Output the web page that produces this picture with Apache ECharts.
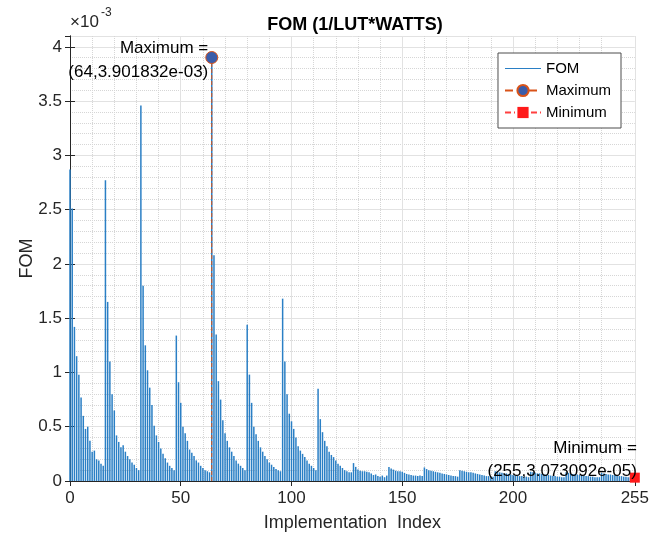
<!DOCTYPE html>
<html>
<head>
<meta charset="utf-8">
<script src="https://cdn.jsdelivr.net/npm/echarts@6/dist/echarts.min.js"></script>
<style>
html, body { margin: 0; padding: 0; background: #fff; }
#chart { width: 652px; height: 537px; }
</style>
</head>
<body>
<div id="chart"></div>
<script>
// FOM per implementation, in units of 1e-3 (one row = 16 implementations)
var fomE3 = [
  2.87, 2.51, 1.42, 1.15, 0.98, 0.77, 0.60, 0.48, 0.50, 0.37, 0.27, 0.28, 0.20, 0.19, 0.16, 0.14,
  2.77, 1.65, 1.10, 0.80, 0.65, 0.42, 0.36, 0.31, 0.33, 0.27, 0.23, 0.20, 0.17, 0.15, 0.12, 0.10,
  3.46, 1.80, 1.25, 1.02, 0.86, 0.70, 0.51, 0.42, 0.36, 0.30, 0.25, 0.21, 0.17, 0.14, 0.12, 0.10,
  1.34, 0.91, 0.72, 0.50, 0.44, 0.37, 0.29, 0.26, 0.23, 0.19, 0.17, 0.14, 0.12, 0.10, 0.09, 0.08,
  3.901832, 2.08, 1.35, 0.92, 0.75, 0.56, 0.44, 0.37, 0.31, 0.27, 0.23, 0.19, 0.16, 0.14, 0.12, 0.10,
  1.44, 0.98, 0.72, 0.50, 0.43, 0.37, 0.31, 0.27, 0.23, 0.20, 0.17, 0.15, 0.13, 0.11, 0.10, 0.09,
  1.68, 1.10, 0.80, 0.62, 0.55, 0.48, 0.40, 0.32, 0.28, 0.25, 0.22, 0.19, 0.16, 0.14, 0.12, 0.10,
  0.85, 0.57, 0.45, 0.37, 0.32, 0.27, 0.24, 0.22, 0.19, 0.16, 0.14, 0.12, 0.10, 0.09, 0.08, 0.08,
  0.165, 0.13, 0.105, 0.095, 0.09, 0.09, 0.085, 0.08, 0.07, 0.055, 0.06, 0.045, 0.04, 0.05, 0.035, 0.05,
  0.13, 0.115, 0.105, 0.095, 0.09, 0.09, 0.085, 0.075, 0.065, 0.06, 0.055, 0.05, 0.05, 0.045, 0.05, 0.045,
  0.125, 0.11, 0.10, 0.095, 0.09, 0.085, 0.08, 0.075, 0.07, 0.065, 0.06, 0.055, 0.05, 0.045, 0.045, 0.04,
  0.10, 0.095, 0.09, 0.085, 0.08, 0.08, 0.075, 0.07, 0.065, 0.06, 0.055, 0.05, 0.045, 0.045, 0.04, 0.04,
  0.09, 0.085, 0.08, 0.075, 0.07, 0.07, 0.065, 0.06, 0.055, 0.05, 0.05, 0.045, 0.045, 0.04, 0.04, 0.035,
  0.085, 0.08, 0.075, 0.07, 0.07, 0.065, 0.06, 0.06, 0.055, 0.05, 0.045, 0.045, 0.04, 0.04, 0.035, 0.035,
  0.08, 0.075, 0.07, 0.065, 0.065, 0.06, 0.055, 0.055, 0.05, 0.045, 0.045, 0.04, 0.04, 0.035, 0.035, 0.035,
  0.075, 0.07, 0.065, 0.06, 0.06, 0.055, 0.055, 0.05, 0.045, 0.045, 0.04, 0.04, 0.035, 0.035, 0.033, 0.03073092
];
var implIndex = fomE3.map(function (v, i) { return i; });
var xTicks = [0, 50, 100, 150, 200, 255];

var FONT = 'Liberation Sans';
var AXIS_COLOR = '#262626';

// max / min of the data
var maxIdx = 0, minIdx = 0;
fomE3.forEach(function (v, i) {
  if (v > fomE3[maxIdx]) maxIdx = i;
  if (v < fomE3[minIdx]) minIdx = i;
});

// matlab style e-notation: 3.901832e-03
function sci(v) {
  return v.toExponential(6).replace(/e([+-])(\d)$/, 'e$10$2');
}

var chart = echarts.init(document.getElementById('chart'));

function boxAxis(pos) {
  return {
    type: 'value', position: pos, min: 0,
    axisLine: { show: true, lineStyle: { color: AXIS_COLOR, width: 1 } },
    axisTick: { show: true, inside: true, length: 5, lineStyle: { color: AXIS_COLOR } },
    axisLabel: { show: false },
    splitLine: { show: false }
  };
}

var xTop = boxAxis('top');
xTop.max = 255; xTop.interval = 50;
xTop.axisTick.customValues = xTicks;
var yRight = boxAxis('right');
yRight.max = 4.1; yRight.interval = 0.5;

chart.setOption({
  animation: false,
  backgroundColor: '#fff',
  textStyle: { fontFamily: FONT },
  grid: { left: 70, right: 12, top: 36, bottom: 52 },
  graphic: [
    { type: 'text', x: 355, y: 25, style: { text: 'FOM (1/LUT*WATTS)', align: 'center', verticalAlign: 'middle', font: 'bold 18px "Liberation Sans"', fill: '#000' } },
    { type: 'text', x: 70, y: 22, style: { text: '×10', align: 'left', verticalAlign: 'middle', font: '17px "Liberation Sans"', fill: AXIS_COLOR } },
    { type: 'text', x: 101, y: 13, style: { text: '-3', align: 'left', verticalAlign: 'middle', font: '12px "Liberation Sans"', fill: AXIS_COLOR } }
  ],
  legend: {
    right: 31, top: 53, orient: 'vertical',
    backgroundColor: '#fff', borderColor: '#4d4d4d', borderWidth: 1,
    padding: [8, 10, 8, 6], itemGap: 7, itemWidth: 36, itemHeight: 14,
    selectedMode: false,
    textStyle: { fontSize: 15, color: '#000', fontFamily: FONT },
    data: [
      { name: 'FOM', icon: 'path://M0,0h0.05v0.05h-0.05z M0,6.5h40v1h-40z M0,14h0.05v0.05h-0.05z' },
      'Maximum', 'Minimum'
    ]
  },
  xAxis: [{
    type: 'value', position: 'bottom', min: 0, max: 255, interval: 50,
    name: 'Implementation  Index', nameLocation: 'middle', nameGap: 33, nameMoveOverlap: false,
    nameTextStyle: { fontSize: 18, color: AXIS_COLOR, fontFamily: FONT },
    axisLine: { show: true, lineStyle: { color: AXIS_COLOR } },
    axisTick: { show: true, inside: true, length: 5, customValues: xTicks, lineStyle: { color: AXIS_COLOR } },
    axisLabel: { customValues: xTicks, fontSize: 17, color: AXIS_COLOR, margin: 9 },
    splitLine: { show: true, lineStyle: { color: '#e2e2e2' } },
    minorTick: { show: false, splitNumber: 5 },
    minorSplitLine: { show: true, lineStyle: { color: '#d6d6d6', type: 'dotted' } }
  }, xTop],
  yAxis: [{
    type: 'value', position: 'left', min: 0, max: 4.1, interval: 0.5,
    name: 'FOM', nameLocation: 'middle', nameGap: 34, nameRotate: 90, nameMoveOverlap: false,
    nameTextStyle: { fontSize: 18, color: AXIS_COLOR, fontFamily: FONT },
    axisLine: { show: true, lineStyle: { color: AXIS_COLOR } },
    axisTick: { show: true, inside: true, length: 5, lineStyle: { color: AXIS_COLOR } },
    axisLabel: { fontSize: 17, color: AXIS_COLOR, margin: 8, showMaxLabel: false },
    splitLine: { show: true, lineStyle: { color: '#e2e2e2' } },
    minorTick: { show: false, splitNumber: 5 },
    minorSplitLine: { show: true, lineStyle: { color: '#d6d6d6', type: 'dotted' } }
  }, yRight],
  series: [
    {
      name: 'FOM', type: 'bar', barWidth: 1.5, z: 2,
      itemStyle: { color: '#2a7fc5' },
      data: implIndex.map(function (i) { return [i, fomE3[i]]; })
    },
    {
      name: 'Maximum', type: 'line', z: 5, clip: false,
      symbol: 'circle', symbolSize: 12,
      lineStyle: { color: '#D95319', type: 'dashed', width: 1 },
      itemStyle: { color: '#3a5ca9', borderColor: '#D95319', borderWidth: 1 },
      data: [
        { value: [maxIdx, 0], symbol: 'none' },
        {
          value: [maxIdx, fomE3[maxIdx]],
          label: {
            show: true, position: 'left', distance: 0, align: 'right', verticalAlign: 'middle',
            offset: [3, 3], lineHeight: 24, fontSize: 17, color: '#000', fontFamily: FONT,
            formatter: 'Maximum =\n(' + maxIdx + ',' + sci(fomE3[maxIdx] * 1e-3) + ')'
          }
        }
      ]
    },
    {
      name: 'Minimum', type: 'line', z: 5, clip: false,
      symbol: 'rect', symbolSize: 10,
      lineStyle: { color: '#ff4040', type: [6, 3, 1, 3], width: 1 },
      itemStyle: { color: '#ff1a1a' },
      data: [
        { value: [minIdx, 0], symbol: 'none' },
        {
          value: [minIdx, fomE3[minIdx]],
          label: {
            show: true, position: 'left', distance: 0, align: 'right', verticalAlign: 'bottom',
            offset: [7, 5], lineHeight: 23, fontSize: 17, color: '#000', fontFamily: FONT,
            formatter: 'Minimum =\n(' + minIdx + ',' + sci(fomE3[minIdx] * 1e-3) + ')'
          }
        }
      ]
    }
  ]
});
</script>
</body>
</html>
